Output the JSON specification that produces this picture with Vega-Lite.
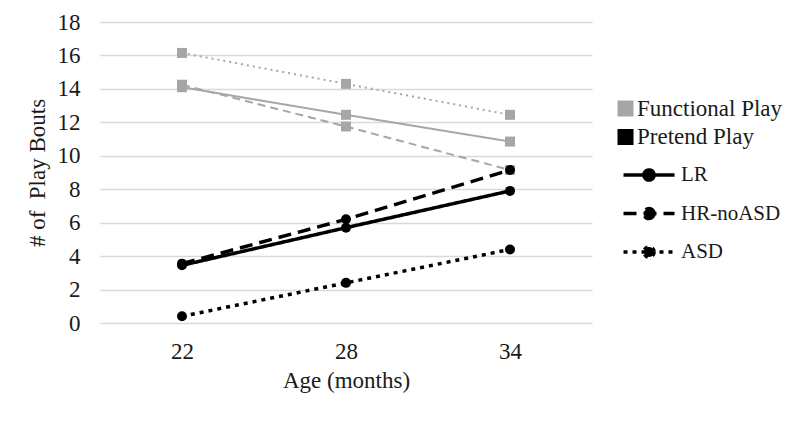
{
  "$schema": "https://vega.github.io/schema/vega-lite/v6.json",
  "autosize": {"type": "none"},
  "padding": {"left": 100, "top": 22, "right": 208, "bottom": 98},
  "width": 492,
  "height": 301,
  "background": "white",
  "config": {
    "view": {"stroke": null},
    "font": "Liberation Serif",
    "axis": {"labelColor": "#1a1a1a", "titleColor": "#1a1a1a", "titleFontWeight": "normal"},
    "legend": {"labelColor": "#1a1a1a"}
  },
  "data": {"values": [
    {"age": "22", "play": "Functional Play", "group": "LR", "value": 14.1},
    {"age": "28", "play": "Functional Play", "group": "LR", "value": 12.45},
    {"age": "34", "play": "Functional Play", "group": "LR", "value": 10.85},
    {"age": "22", "play": "Functional Play", "group": "HR-noASD", "value": 14.25},
    {"age": "28", "play": "Functional Play", "group": "HR-noASD", "value": 11.75},
    {"age": "34", "play": "Functional Play", "group": "HR-noASD", "value": 9.15},
    {"age": "22", "play": "Functional Play", "group": "ASD", "value": 16.15},
    {"age": "28", "play": "Functional Play", "group": "ASD", "value": 14.3},
    {"age": "34", "play": "Functional Play", "group": "ASD", "value": 12.45},
    {"age": "22", "play": "Pretend Play", "group": "LR", "value": 3.45},
    {"age": "28", "play": "Pretend Play", "group": "LR", "value": 5.7},
    {"age": "34", "play": "Pretend Play", "group": "LR", "value": 7.9},
    {"age": "22", "play": "Pretend Play", "group": "HR-noASD", "value": 3.55},
    {"age": "28", "play": "Pretend Play", "group": "HR-noASD", "value": 6.2},
    {"age": "34", "play": "Pretend Play", "group": "HR-noASD", "value": 9.15},
    {"age": "22", "play": "Pretend Play", "group": "ASD", "value": 0.4},
    {"age": "28", "play": "Pretend Play", "group": "ASD", "value": 2.4},
    {"age": "34", "play": "Pretend Play", "group": "ASD", "value": 4.4}
  ]},
  "encoding": {
    "x": {"field": "age", "type": "ordinal", "scale": {"type": "point", "padding": 0.5},
      "axis": {"title": "Age (months)", "labelAngle": 0, "labelFont": "Liberation Serif", "titleFont": "Liberation Serif", "labelFontSize": 23, "titleFontSize": 23, "domain": false, "ticks": false, "labelPadding": 17, "titlePadding": 6}},
    "y": {"field": "value", "type": "quantitative", "scale": {"domain": [0, 18], "nice": false},
      "axis": {"title": "# of\u00a0 Play Bouts", "values": [0,2,4,6,8,10,12,14,16,18], "labelFont": "Liberation Serif", "titleFont": "Liberation Serif", "labelFontSize": 23, "titleFontSize": 23, "domain": false, "ticks": false, "labelPadding": 20, "titlePadding": 8, "gridColor": "#D9D9D9", "gridWidth": 1.5}}
  },
  "layer": [
    {
      "transform": [{"filter": "datum.play === 'Functional Play'"}],
      "mark": {"type": "line", "color": "#A6A6A6", "strokeWidth": 2},
      "encoding": {
        "detail": {"field": "group"},
        "strokeDash": {"field": "group", "type": "nominal", "scale": {"domain": ["LR", "HR-noASD", "ASD"], "range": [[1, 0], [8, 5], [2, 4]]}, "legend": null}
      }
    },
    {
      "transform": [{"filter": "datum.play === 'Pretend Play'"}],
      "mark": {"type": "line", "color": "black", "strokeWidth": 3.5},
      "encoding": {
        "detail": {"field": "group"},
        "strokeDash": {"field": "group", "type": "nominal", "title": null,
          "scale": {"domain": ["LR", "HR-noASD", "ASD"], "range": [[1, 0], [13, 7], [4, 5]]},
          "legend": {"orient": "none", "legendX": 530, "legendY": 134, "symbolType": "M-1.5,0H1.5M0.3,0A0.3,0.3 0 1,1 -0.3,0A0.3,0.3 0 1,1 0.3,0Z", "symbolSize": 1156, "symbolStrokeWidth": 3.5, "symbolStrokeColor": "black", "symbolFillColor": "black", "labelFont": "Liberation Serif", "labelFontSize": 21, "rowPadding": 6.5, "labelOffset": 13}}
      }
    },
    {
      "transform": [{"filter": "datum.play === 'Functional Play'"}],
      "mark": {"type": "point", "filled": true, "opacity": 1, "size": 100, "shape": "square"},
      "encoding": {
        "color": {"field": "play", "type": "nominal", "title": null,
          "scale": {"domain": ["Functional Play", "Pretend Play"], "range": ["#A6A6A6", "black"]},
          "legend": {"orient": "none", "legendX": 514, "legendY": 75, "symbolType": "square", "symbolSize": 256, "labelFont": "Liberation Serif", "labelFontSize": 23, "rowPadding": 4.5, "labelOffset": 0, "symbolOpacity": 1}}
      }
    },
    {
      "transform": [{"filter": "datum.play === 'Pretend Play'"}],
      "mark": {"type": "point", "filled": true, "opacity": 1, "size": 100, "shape": "circle"},
      "encoding": {
        "color": {"field": "play", "type": "nominal", "title": null,
          "scale": {"domain": ["Functional Play", "Pretend Play"], "range": ["#A6A6A6", "black"]}}
      }
    }
  ],
  "resolve": {"scale": {"strokeDash": "independent"}}
}
